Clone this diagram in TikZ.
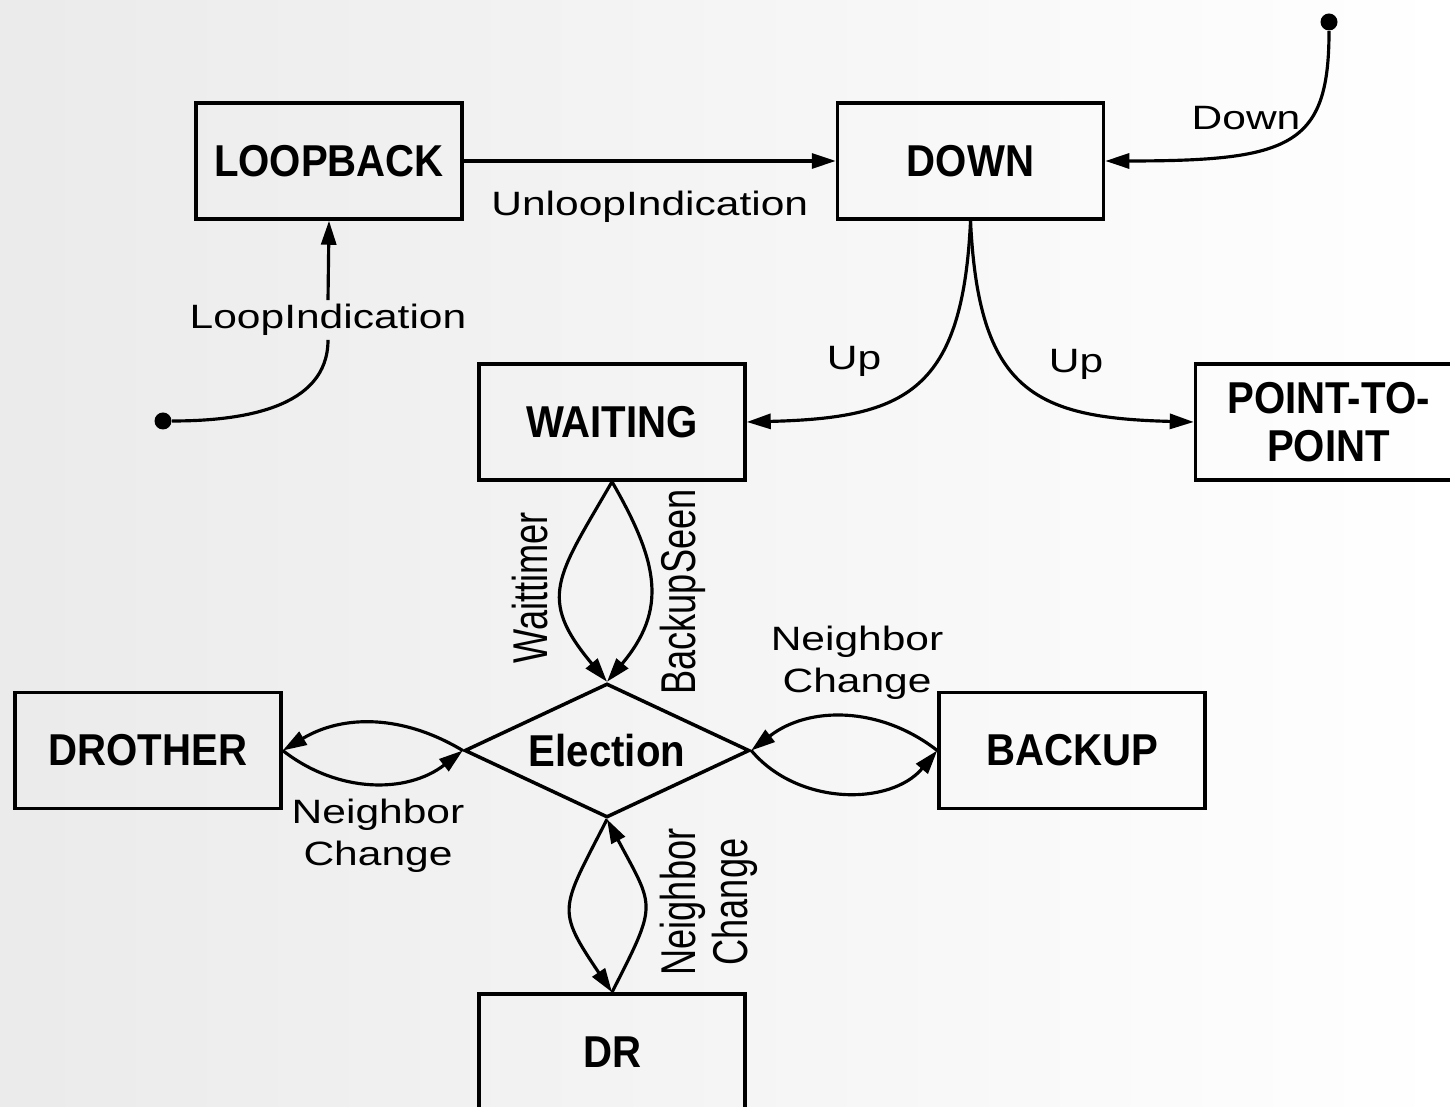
\documentclass[tikz,border=0pt]{standalone}
\usepackage{fontspec}
\setmainfont{Liberation Sans}
\newfontfamily\statefont[FakeStretch=0.9]{Liberation Sans}
\newfontfamily\labelfont[FakeStretch=1.26]{Liberation Sans}
\newfontfamily\vlabelfont{Liberation Sans}
\usetikzlibrary{arrows.meta,positioning,shapes.geometric}

\begin{document}
\begin{tikzpicture}[
        % Estilos
        state/.style={rectangle, draw, line width=1pt, minimum width=2.66cm, minimum height=1.16cm, align=center, inner sep=2pt, font=\statefont\bfseries\fontsize{12.7}{13.6}\selectfont},
        decision/.style={diamond, draw, line width=1pt, minimum width=2.85cm, minimum height=1.34cm, aspect=2.1, inner sep=0pt, font=\statefont\bfseries\fontsize{12.7}{13.6}\selectfont},
        lbl/.style={font=\labelfont\fontsize{9.6}{12}\selectfont, align=center, inner sep=1pt},
        vlbl/.style={font=\vlabelfont\fontsize{10.3}{11}\selectfont, align=center, inner sep=1pt, rotate=90, yscale=1.35},
        start/.style={circle, fill, inner sep=0pt, minimum size=0.17cm},
        arrow/.style={-{Triangle[length=2.4mm, width=1.5mm]}, line width=0.9pt}
    ]
        % Fundo
        \useasboundingbox (0,0) rectangle (14.5,11.06);
        \shade[left color=gray!16, right color=white] (0,0) rectangle (14.5,11.06);

        % Linha de cima
        \node (loopback) [state] at (3.29,9.45) {LOOPBACK};
        \node (down) [state, right=3.72cm of loopback] {DOWN};

        % Linha do meio
        \node (waiting) [state] at (6.12,6.84) {WAITING};
        \node (ptp) [state, right=4.47cm of waiting] {POINT-TO-\\POINT};

        % Eleicao e estados finais
        \node (election) [decision, below=2.0cm of waiting, xshift=-0.5mm] {Election};
        \node (drother) [state, left=1.8cm of election] {DROTHER};
        \node (backup) [state, right=1.86cm of election] {BACKUP};
        \node (dr) [state, below=1.73cm of election, xshift=0.5mm] {DR};

        % Pontos de partida
        \node (loopstart) [start] at (1.63,6.85) {};
        \node (downstart) [start] at (13.29,10.84) {};

        % --- Rotulos ---
        \node (looplbl) [lbl] at (3.28,7.86) {LoopIndication};
        \node (downlbl) [lbl] at (12.46,9.88) {Down};
        \node (upleft) [lbl] at (8.54,7.45) {Up};
        \node (upright) [lbl] at (10.76,7.42) {Up};
        \node (waitlbl) [vlbl] at (5.30,5.18) {Waittimer};
        \node (backlbl) [vlbl] at (6.83,5.14) {BackupSeen};
        \node (nbleft) [lbl] at (3.78,2.70) {Neighbor\\Change};
        \node (nbright) [lbl] at (8.57,4.43) {Neighbor\\Change};
        \node (nbdown) [vlbl] at (7.09,2.04) {Neighbor\\Change};

        % --- Linhas de Conexao ---
        \draw [line width=0.9pt] (loopstart) to[out=0, in=-90] (looplbl.south);
        \draw [arrow] (looplbl.north) -- (loopback.south);
        \draw [arrow] (downstart) .. controls +(0,-1.24) and +(1.86,0) .. (down.east);

        \draw [arrow] (loopback.east) -- node[lbl, below=2.5mm, midway] (unlooplbl) {UnloopIndication} (down.west);

        % DOWN se divide em dois ramos
        \draw [arrow] (down.south) .. controls +(-0.08,-1.7) and +(1.6,0.04) .. (waiting.east);
        \draw [arrow] (down.south) .. controls +(0.08,-1.7) and +(-1.6,0.04) .. (ptp.west);

        % WAITING para a eleicao
        \draw [arrow] (waiting.south) to[out=-120, in=130, looseness=1.4] (election.north);
        \draw [arrow] (waiting.south) to[out=-60, in=50, looseness=1.2] (election.north);

        % Eleicao <-> DROTHER
        \draw [arrow] (election.west) to[out=149, in=31] (drother.east);
        \draw [arrow] (drother.east) to[out=-38, in=-142] (election.west);

        % Eleicao <-> BACKUP
        \draw [arrow] (backup.west) to[out=142, in=38] (election.east);
        \draw [arrow] (election.east) to[out=-50, in=-130] (backup.west);

        % Eleicao <-> DR
        \draw [arrow] (election.south) to[out=-117, in=124, looseness=1.5] (dr.north);
        \draw [arrow] (dr.north) to[out=63, in=-62, looseness=1.5] (election.south);

    \end{tikzpicture}
\end{document}
